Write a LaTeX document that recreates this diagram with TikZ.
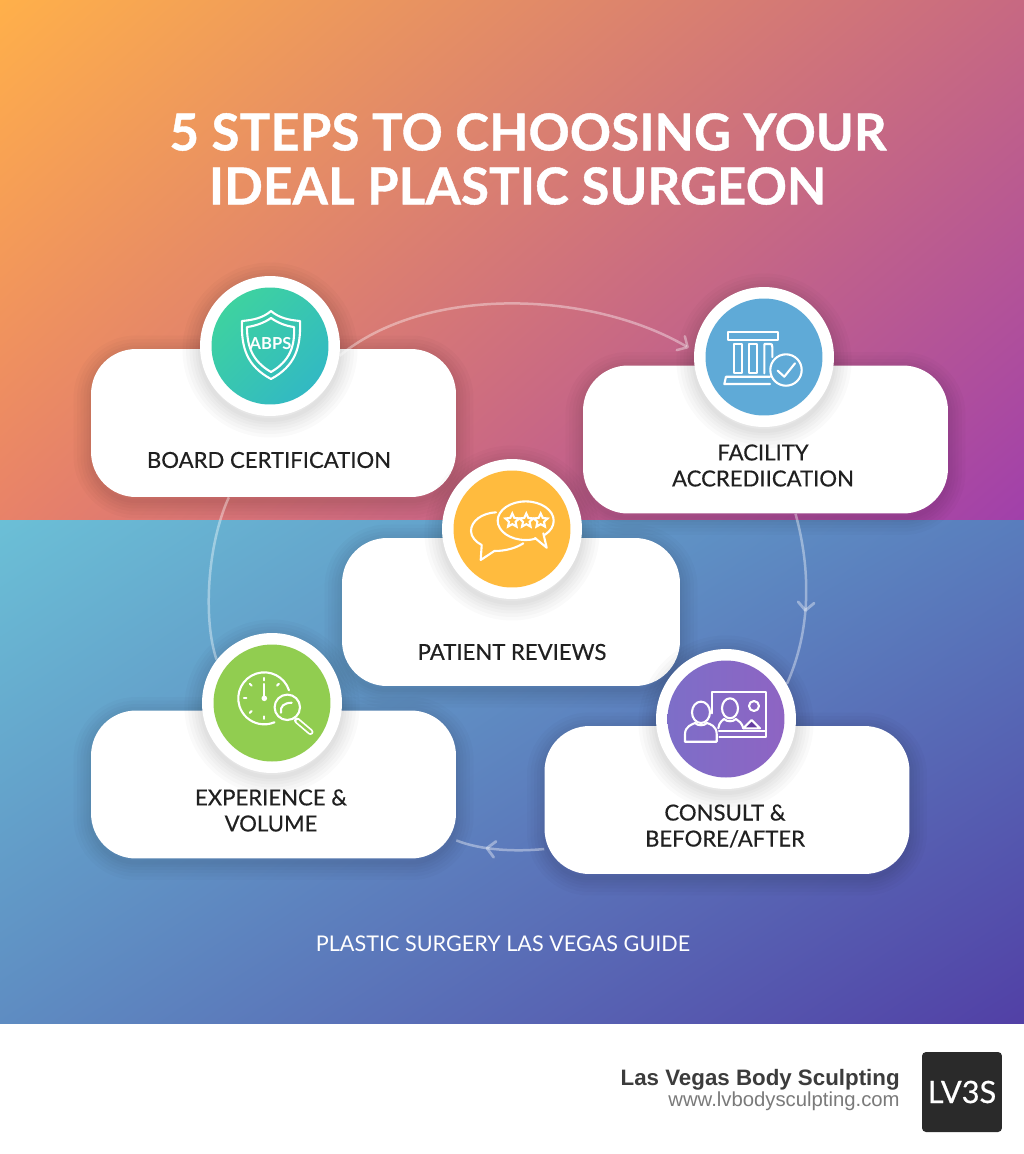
\documentclass[tikz,border=0pt]{standalone}
\usepackage{fontspec}
\usetikzlibrary{shapes,shapes.geometric,arrows.meta,positioning,calc,decorations.markings}
\setmainfont{Lato}
\newfontfamily\titlefont{Lato}[LetterSpace=0.3,BoldFeatures={FakeBold=0.8}]
\newfontfamily\guidefont{Lato}
\newfontfamily\stepfont{Lato}[FakeBold=0.4]
\newfontfamily\logofont{Lato}[FakeBold=0.6]
\newfontfamily\footfont{Liberation Sans}

% corner to corner blends of the two panels
\pgfdeclarefunctionalshading{warmpanel}{\pgfpointorigin}{\pgfpoint{100bp}{100bp}}{}{
  exch 25 sub 50 div exch 25 sub 50 div
  2 copy mul 0.06 mul 2 index -0.28 mul add 1 index 0.09 mul add 0.91 add 3 1 roll
  2 copy mul -0.02 mul 2 index -0.26 mul add 1 index 0.18 mul add 0.51 add 3 1 roll
  2 copy mul -0.04 mul 2 index 0.26 mul add 1 index -0.12 mul add 0.41 add 3 1 roll
  pop pop
}
\pgfdeclarefunctionalshading{coolpanel}{\pgfpointorigin}{\pgfpoint{100bp}{100bp}}{}{
  exch 25 sub 50 div exch 25 sub 50 div
  2 copy mul -0.02 mul 2 index -0.05 mul add 1 index 0.05 mul add 0.37 add 3 1 roll
  2 copy mul 0.04 mul 2 index -0.30 mul add 1 index 0.20 mul add 0.55 add 3 1 roll
  2 copy mul 0.01 mul 2 index -0.11 mul add 1 index 0.08 mul add 0.76 add 3 1 roll
  pop pop
}

\tikzset{
  softring/.style={preaction={draw=black, draw opacity=0.018, line width=#1, transform canvas={yshift=-0.08cm}}},
  softshadow/.style={softring=0.7cm, softring=0.56cm, softring=0.42cm, softring=0.3cm, softring=0.18cm, softring=0.08cm},
  stepcard/.style={rectangle, fill=white, rounded corners=0.9cm, minimum width=7.3cm, minimum height=2.96cm, softshadow},
  badge/.style={circle, fill=white, minimum size=2.8cm, inner sep=0pt, softshadow},
  disc/.style={circle, minimum size=2.34cm, inner sep=0pt},
  steplabel/.style={font=\stepfont\fontsize{12.6}{14.8}\selectfont, text=stepink, align=center, inner sep=0pt},
  icon/.style={draw=white, line width=0.042cm, line join=round, line cap=round},
  loopline/.style={draw=white, draw opacity=0.38, line width=0.05cm},
  loophead/.style={decoration={markings, mark=at position #1 with {\arrow[white, opacity=0.38, line width=0.055cm]{Straight Barb[round, length=0.16cm, width=0.32cm]}}}, postaction={decorate}}
}

\begin{document}
\begin{tikzpicture}[x=0.02cm,y=-0.02cm]
    % Colours
    \definecolor{stepink}{RGB}{32,32,32}
    \definecolor{tealone}{RGB}{62,210,160}
    \definecolor{tealtwo}{RGB}{50,185,195}
    \definecolor{skyblue}{RGB}{95,170,215}
    \definecolor{amber}{RGB}{255,187,62}
    \definecolor{leaf}{RGB}{145,205,80}
    \definecolor{violetone}{RGB}{125,110,200}
    \definecolor{violettwo}{RGB}{142,100,195}
    \definecolor{peak}{RGB}{100,60,160}
    \definecolor{footdark}{RGB}{60,60,60}
    \definecolor{footgrey}{RGB}{122,122,122}
    \definecolor{logodark}{RGB}{42,42,42}

    \useasboundingbox (0,0) rectangle (1024,1154);

    % Panels
    \fill[white] (0,0) rectangle (1024,1154);
    \shade[shading=warmpanel] (0,0) rectangle (1024,520);
    \shade[shading=coolpanel] (0,520) rectangle (1024,1023);

    % Title
    \node[font=\titlefont\bfseries\fontsize{29}{32}\selectfont, text=white, inner sep=0pt] (titleone) at (528,132) {5 STEPS TO CHOOSING YOUR};
    \node[font=\titlefont\bfseries\fontsize{29}{32}\selectfont, text=white, inner sep=0pt] (titletwo) at (517.5,186) {IDEAL PLASTIC SURGEON};

    % Cards
    \node[stepcard] (boardcard) at (273.5,423) {};
    \node[stepcard] (facilitycard) at (765.5,439.5) {};
    \node[stepcard, minimum width=6.76cm] (reviewscard) at (511,612) {};
    \node[stepcard] (experiencecard) at (273.5,784.5) {};
    \node[stepcard] (consultcard) at (727,800) {};

    % Badges
    \node[badge] (boardbadge) at (270,346) {};
    \node[badge] (facilitybadge) at (764,357) {};
    \node[badge] (reviewsbadge) at (512,529) {};
    \node[badge] (experiencebadge) at (272,703) {};
    \node[badge] (consultbadge) at (726,719) {};

    % Loop
    \draw[loopline, shorten >=0.12cm, -{Straight Barb[round, length=0.16cm, width=0.32cm]}] (boardbadge.-8) .. controls (425,285) and (590,290) .. (facilitybadge.175);
    \draw[loopline, loophead=0.57] (facilitycard.-68) .. controls (811,570) and (811,630) .. (consultbadge.30);
    \draw[loopline, loophead=0.66] (consultcard.195) .. controls (515,852) and (480,850) .. (experiencecard.-17.8);
    \draw[loopline] (experiencebadge.142) .. controls (203,620) and (207,545) .. (boardcard.-121.6);

    % Discs
    \node[disc, left color=tealtwo, right color=tealone, shading angle=-135] (boarddisc) at (boardbadge) {};
    \node[disc, fill=skyblue] (facilitydisc) at (facilitybadge) {};
    \node[disc, fill=amber] (reviewsdisc) at (reviewsbadge) {};
    \node[disc, fill=leaf] (experiencedisc) at (experiencebadge) {};
    \node[disc, left color=violetone, right color=violettwo] (consultdisc) at (consultbadge) {};

    % Shield
    \begin{scope}[shift={(270,346)}]
        \draw[icon] (1,-35) .. controls (9,-28) and (19,-26) .. (30,-25) .. controls (31,2) and (25,20) .. (1,33) .. controls (-23,20) and (-29,2) .. (-28,-25) .. controls (-17,-26) and (-7,-28) .. cycle;
        \draw[icon] (1,-28) .. controls (8,-23) and (16,-20) .. (24,-19) .. controls (25,0) and (20,15) .. (1,26) .. controls (-18,15) and (-23,0) .. (-23,-19) .. controls (-15,-20) and (-6,-23) .. cycle;
        \node[font=\bfseries\fontsize{9.4}{9.4}\selectfont, text=white, inner sep=0pt] (abps) at (0.5,-2) {ABPS};
    \end{scope}

    % Columns
    \begin{scope}[shift={(764,357)}]
        \draw[icon] (-36.3,-25.3) rectangle (13.7,-17);
        \draw[icon] (-29.7,-13) rectangle (-22.3,16.3);
        \draw[icon] (-15,-13) rectangle (-7.3,16.3);
        \draw[icon] (0.3,16.3) -- (0.3,-13) -- (6,-13) .. controls (8,-13) .. (8.3,-10) -- (8.3,0);
        \draw[icon] (6,19.7) -- (-38,19.7) -- (-39.7,27) -- (6,27);
        \draw[icon] (22,13) circle (15.7);
        \draw[icon] (13.7,13.7) -- (20.3,19.7) -- (31,6.3);
    \end{scope}

    % Speech bubbles
    \begin{scope}[shift={(512,529)}]
        \draw[icon] (-16,-16.7) .. controls (-30,-16) and (-41,-8) .. (-41,2) .. controls (-41,8) and (-36,13) .. (-30.3,16) -- (-31.3,31) -- (-17.7,22) .. controls (-6,22) and (4,19) .. (11.3,14.3);
        \draw[icon] (13.7,-8.3) ellipse (28 and 19.3);
        \filldraw[icon, fill=amber] (23,9) -- (34.7,18.7) -- (31.3,4.3);
        \foreach \i/\sx in {1/0.3,2/14.3,3/28.7}
            \node[star, star points=5, star point ratio=2.1, draw=white, line width=0.042cm, inner sep=0pt, minimum size=0.29cm] (star\i) at (\sx,-8.3) {};
    \end{scope}

    % Clock and glass
    \begin{scope}[shift={(272,703)}]
        \draw[icon] (17,-12.7) arc[start angle=-18, end angle=-293, radius=26];
        \foreach \a in {-90,-135,-45,180,135,90}
            \draw[icon, shift={(-7.7,-4.7)}] (\a:18) -- (\a:20.5);
        \draw[icon] (-7.7,-19) -- (-7.7,-4.7);
        \fill[white] (-7.7,-4.7) circle (2.8);
        \draw[icon] (15.3,4.3) circle (12.7);
        \draw[white, line width=0.12cm, line cap=round] (25,17.5) -- (38.5,29);
        \draw[leaf, line width=0.05cm, line cap=round] (25.5,18) -- (38.5,29);
        \draw[icon] (9,9.7) .. controls (8,3) and (12,0) .. (19.7,-0.3);
    \end{scope}

    % Consult
    \begin{scope}[shift={(726,719)}]
        \draw[icon] (-25,-6.7) ellipse (9 and 10.7);
        \draw[icon] (-41,22.7) -- (-41,15) .. controls (-41,7) and (-33,5) .. (-31,4) .. controls (-28,7) and (-22,7) .. (-19,4) .. controls (-16,5) and (-9.3,7) .. (-9.3,15) -- (-9.3,22.7) -- cycle;
        \draw[icon] (-13.7,-5.7) -- (-13.7,-27.3) -- (40,-27.3) -- (40,17.7) -- (-6.7,17.7);
        \draw[icon] (4,-10.7) ellipse (8 and 10);
        \draw[icon] (-7.7,9.3) .. controls (-7,3) and (-3,1) .. (-2,0) .. controls (1,3) and (7,3) .. (10,0) .. controls (13,2) and (16,4) .. (17.3,9.3);
        \draw[icon] (-7,11.7) -- (40,11.7);
        \filldraw[icon, fill=peak] (17.3,9.3) -- (25.7,1) -- (34,9.3) -- cycle;
        \draw[icon] (28,-13) circle (5);
    \end{scope}

    % Labels
    \node[steplabel] (boardlabel) at (269,460) {BOARD CERTIFICATION};
    \node[steplabel] (facilitylabel) at (763,465.5) {FACILITY\\ACCREDIICATION};
    \node[steplabel] (reviewslabel) at (512,652) {PATIENT REVIEWS};
    \node[steplabel] (experiencelabel) at (271,810.5) {EXPERIENCE \&\\VOLUME};
    \node[steplabel] (consultlabel) at (725,826) {CONSULT \&\\BEFORE/AFTER};

    \node[font=\guidefont\fontsize{12.3}{14}\selectfont, text=white, inner sep=0pt] (guide) at (503,944) {PLASTIC SURGERY LAS VEGAS GUIDE};

    % Footer
    \node[font=\footfont\bfseries\fontsize{12.7}{15}\selectfont, text=footdark, anchor=east, inner sep=0pt] (brand) at (900,1079.5) {Las Vegas Body Sculpting};
    \node[font=\footfont\fontsize{11.55}{14}\selectfont, text=footgrey, anchor=east, inner sep=0pt] (site) at (900,1101.5) {www.lvbodysculpting.com};
    \node[rectangle, fill=logodark, rounded corners=0.08cm, minimum size=1.6cm, inner sep=0pt, font=\logofont\fontsize{17.5}{17.5}\selectfont, text=white] (logo) at (962,1092) {LV3S};
\end{tikzpicture}
\end{document}
